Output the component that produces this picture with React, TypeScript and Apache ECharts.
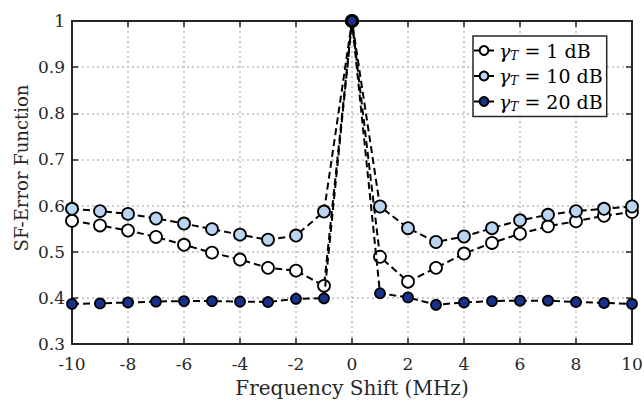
import React, { useEffect, useRef } from "react";
import * as echarts from "echarts";

const shifts = [-10, -9, -8, -7, -6, -5, -4, -3, -2, -1, 0, 1, 2, 3, 4, 5, 6, 7, 8, 9, 10];
const sf1dB = [0.567, 0.557, 0.546, 0.532, 0.515, 0.498, 0.483, 0.465, 0.459, 0.426, 1, 0.489, 0.435, 0.465, 0.496, 0.519, 0.539, 0.555, 0.566, 0.578, 0.586];
const sf10dB = [0.593, 0.588, 0.582, 0.572, 0.561, 0.549, 0.537, 0.526, 0.535, 0.587, 1, 0.598, 0.551, 0.521, 0.533, 0.551, 0.568, 0.58, 0.588, 0.593, 0.598];
const sf20dB = [0.387, 0.388, 0.39, 0.392, 0.393, 0.393, 0.392, 0.391, 0.398, 0.399, 1, 0.41, 0.401, 0.385, 0.39, 0.393, 0.394, 0.394, 0.391, 0.389, 0.387];
const seriesNames = ["1 dB", "10 dB", "20 dB"];
const seriesColors = ["#ffffff", "#b9d5f1", "#17318c"];
const yTitle = "SF-Error Function";
const xTitle = "Frequency Shift (MHz)";

const FONT = "DejaVu Serif";
const AX = "#262626";

export default function App() {
  const ref = useRef<HTMLDivElement>(null);
  useEffect(() => {
    const chart = echarts.init(ref.current!, null, { renderer: "svg" });
    const datasets = [sf1dB, sf10dB, sf20dB];
    const series = datasets.map((vals, i) => ({
      name: seriesNames[i],
      type: "line",
      data: shifts.map((x, k) => [x, vals[k]]),
      symbol: "circle",
      symbolSize: i === 2 ? 10 : 12,
      lineStyle: { color: "#000", width: 2, type: [7, 4] },
      itemStyle: { color: seriesColors[i], borderColor: "#000", borderWidth: 1.8 },
      z: 3 + i,
    }));
    const axisCommon = {
      axisLine: { show: true, onZero: false, lineStyle: { color: AX, width: 2 } },
      axisTick: { show: true, inside: true, length: 6, lineStyle: { color: AX, width: 1.5 } },
    };
    chart.setOption({
      animation: false,
      backgroundColor: "#fff",
      textStyle: { fontFamily: FONT },
      grid: { left: 72, right: 12, top: 21, bottom: 57, containLabel: false, outerBoundsMode: "none" },
      graphic: [
        {
          type: "text",
          x: 21,
          y: 168,
          rotation: Math.PI / 2,
          style: { text: yTitle, fontFamily: FONT, fontSize: 18, fill: AX, align: "center", verticalAlign: "middle" },
        },
      ],
      legend: {
        orient: "vertical",
        left: 473,
        top: 36,
        padding: [5, 4, 4, 0],
        itemGap: 5,
        itemWidth: 20,
        itemHeight: 11,
        borderColor: AX,
        borderWidth: 1.5,
        backgroundColor: "#fff",
        data: seriesNames,
        lineStyle: { type: "solid", width: 2 },
        formatter: (name: string) => `{g|γ}{s|T}{t| = ${name}}`,
        textStyle: {
          fontFamily: FONT,
          color: "#000",
          rich: {
            g: { fontFamily: FONT, fontStyle: "italic", fontSize: 19, color: "#000" },
            s: { fontFamily: FONT, fontStyle: "italic", fontSize: 12, color: "#000", verticalAlign: "bottom", padding: [10, 0, 0, 0] },
            t: { fontFamily: FONT, fontSize: 19, color: "#000" },
          },
        },
      },
      xAxis: [
        {
          type: "value",
          min: -10,
          max: 10,
          interval: 2,
          name: xTitle,
          nameLocation: "middle",
          nameGap: 34,
          nameTextStyle: { fontFamily: FONT, fontSize: 20, color: AX },
          ...axisCommon,
          axisLabel: { fontFamily: FONT, fontSize: 17, color: AX, margin: 11 },
          splitLine: { show: true, lineStyle: { color: "#bdbdbd", type: [2, 3], width: 1.5 } },
        },
        {
          type: "value",
          position: "top",
          min: -10,
          max: 10,
          interval: 2,
          ...axisCommon,
          axisLabel: { show: false },
          splitLine: { show: false },
        },
      ],
      yAxis: [
        {
          type: "value",
          min: 0.3,
          max: 1,
          interval: 0.1,
          ...axisCommon,
          axisLabel: { fontFamily: FONT, fontSize: 17, color: AX, margin: 7, formatter: (v: number) => String(Math.round(v * 10) / 10) },
          splitLine: { show: true, lineStyle: { color: "#bdbdbd", type: [2, 3], width: 1.5 } },
        },
        {
          type: "value",
          position: "right",
          min: 0.3,
          max: 1,
          interval: 0.1,
          ...axisCommon,
          axisLabel: { show: false },
          splitLine: { show: false },
        },
      ],
      series,
    });
    return () => chart.dispose();
  }, []);
  return <div ref={ref} style={{ width: 644, height: 401, position: "absolute", left: 0, top: 0 }} />;
}
